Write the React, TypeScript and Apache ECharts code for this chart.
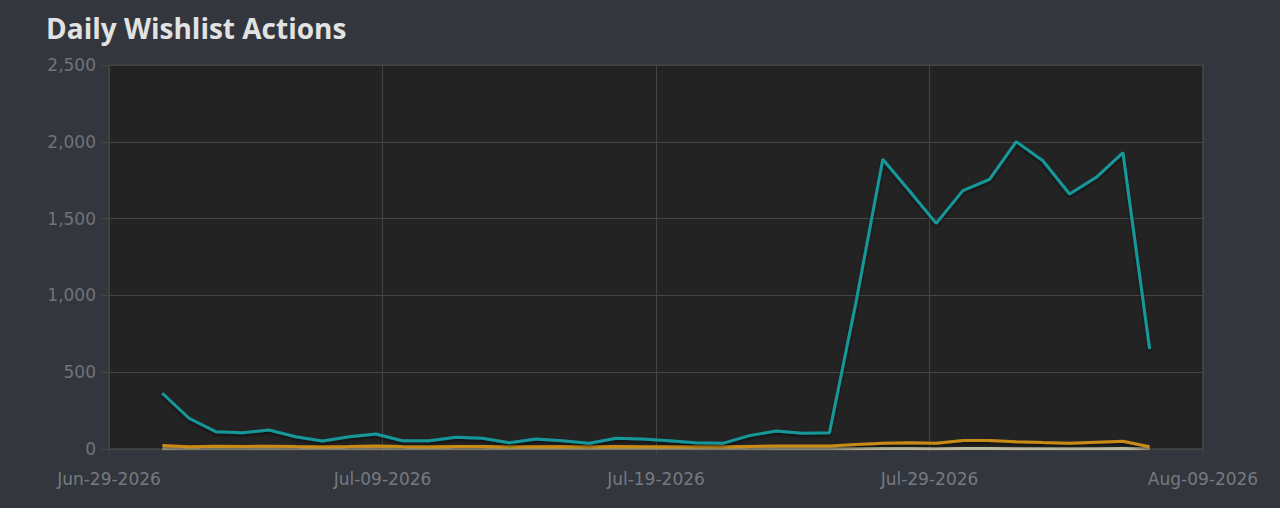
import React, { useEffect, useRef } from "react";
import * as echarts from "echarts";

const titleText = "Daily Wishlist Actions";
const axisStartDate = "2026-06-29";
const axisEndDate = "2026-08-09";
const xTickLabels = ["Jun-29-2026", "Jul-09-2026", "Jul-19-2026", "Jul-29-2026", "Aug-09-2026"];
const yTicks = [0, 500, 1000, 1500, 2000, 2500];

const dates = [
  "2026-07-01", "2026-07-02", "2026-07-03", "2026-07-04", "2026-07-05", "2026-07-06",
  "2026-07-07", "2026-07-08", "2026-07-09", "2026-07-10", "2026-07-11", "2026-07-12",
  "2026-07-13", "2026-07-14", "2026-07-15", "2026-07-16", "2026-07-17", "2026-07-18",
  "2026-07-19", "2026-07-20", "2026-07-21", "2026-07-22", "2026-07-23", "2026-07-24",
  "2026-07-25", "2026-07-26", "2026-07-27", "2026-07-28", "2026-07-29", "2026-07-30",
  "2026-07-31", "2026-08-01", "2026-08-02", "2026-08-03", "2026-08-04", "2026-08-05",
  "2026-08-06", "2026-08-07",
];

const adds = [
  363, 200, 113, 106, 124, 80, 52, 80, 98, 54, 54, 76, 70, 41, 65, 54, 37, 70, 65,
  54, 41, 37, 87, 117, 102, 106, 960, 1886, 1680, 1469, 1682, 1756, 2001, 1877,
  1660, 1769, 1929, 651,
];

const deletes = [
  22, 15, 18, 17, 18, 16, 15, 17, 20, 16, 15, 17, 16, 14, 15, 16, 14, 16, 15, 14,
  15, 14, 17, 20, 19, 20, 30, 38, 40, 37, 55, 56, 48, 42, 38, 44, 50, 15,
];

const purchases = [
  2, 1, 1, 2, 1, 1, 1, 2, 1, 1, 1, 1, 1, 1, 1, 1, 1, 1, 1, 1, 1, 1, 1, 1, 1, 1,
  2, 3, 3, 2, 3, 3, 2, 2, 2, 2, 3, 1,
];

const DAY = 86400000;
const t0 = Date.parse(axisStartDate + "T00:00:00Z");
const t1 = Date.parse(axisEndDate + "T00:00:00Z");
const spanDays = (t1 - t0) / DAY;
const xInterval = spanDays / (xTickLabels.length - 1);
const dayOf = (d: string) => (Date.parse(d + "T00:00:00Z") - t0) / DAY;

const pairs = (vals: number[]) => dates.map((d, i) => [dayOf(d), vals[i]]);

const TITLE_FONT = "'Open Sans', 'Noto Sans', sans-serif";
const AXIS_FONT = "'DejaVu Sans', 'Open Sans', sans-serif";

export default function App() {
  const ref = useRef<HTMLDivElement>(null);
  useEffect(() => {
    document.body.style.margin = "0";
    document.body.style.background = "#33363d";
    if (!ref.current) return;
    const chart = echarts.init(ref.current, undefined, { renderer: "svg" });
    const lineShadow = {
      shadowColor: "rgba(0,0,0,0.55)",
      shadowBlur: 3,
      shadowOffsetY: 2,
    };
    chart.setOption({
      animation: false,
      backgroundColor: "#33363d",
      title: {
        text: titleText,
        left: 41,
        top: 9,
        textStyle: {
          color: "#e2e2e2",
          fontFamily: TITLE_FONT,
          fontWeight: "bold",
          fontSize: 28,
        },
      },
      grid: {
        left: 109,
        right: 77,
        top: 65,
        bottom: 59,
        show: true,
        backgroundColor: "#232323",
        borderColor: "#3e3e3e",
        borderWidth: 2,
      },
      xAxis: {
        type: "value",
        min: 0,
        max: spanDays,
        interval: xInterval,
        axisLine: { show: false },
        axisTick: { show: true, length: 6, lineStyle: { color: "#444444" } },
        splitLine: { show: true, lineStyle: { color: "#444444", width: 1 } },
        axisLabel: {
          color: "#767a81",
          fontFamily: AXIS_FONT,
          fontSize: 17,
          margin: 21,
          showMinLabel: true,
          showMaxLabel: true,
          formatter: (v: number) => xTickLabels[Math.round(v / xInterval)] ?? "",
        },
      },
      yAxis: {
        type: "value",
        min: yTicks[0],
        max: yTicks[yTicks.length - 1],
        interval: yTicks[1] - yTicks[0],
        axisLine: { show: false },
        axisTick: { show: true, length: 8, lineStyle: { color: "#444444" } },
        splitLine: { show: true, lineStyle: { color: "#444444", width: 1 } },
        axisLabel: {
          color: "#6f737a",
          fontFamily: AXIS_FONT,
          fontSize: 17,
          margin: 13,
          formatter: (v: number) => v.toLocaleString("en-US"),
        },
      },
      series: [
        {
          name: "Purchases & Activations",
          type: "line",
          data: pairs(purchases),
          showSymbol: false,
          lineStyle: { color: "#b8b89c", width: 3 },
          z: 2,
        },
        {
          name: "Deletes",
          type: "line",
          data: pairs(deletes),
          showSymbol: false,
          lineStyle: { color: "#c98a18", width: 3, ...lineShadow },
          z: 3,
        },
        {
          name: "Adds",
          type: "line",
          data: pairs(adds),
          showSymbol: false,
          lineStyle: { color: "#18979a", width: 3, ...lineShadow },
          z: 4,
        },
      ],
    });
    return () => chart.dispose();
  }, []);
  return <div ref={ref} style={{ width: 1280, height: 508 }} />;
}
